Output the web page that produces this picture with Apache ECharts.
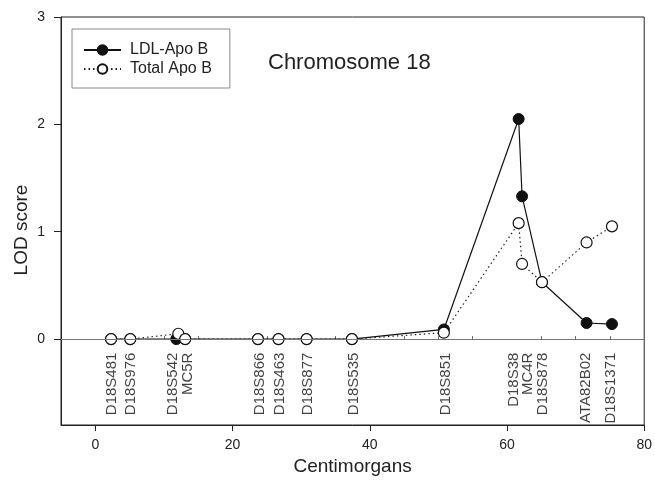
<!DOCTYPE html>
<html>
<head>
<meta charset="utf-8">
<script src="https://cdn.jsdelivr.net/npm/echarts@6/dist/echarts.min.js"></script>
<style>html,body{margin:0;padding:0;background:#fff;}#c{width:655px;height:483px;}</style>
</head>
<body>
<div id="c"></div>
<script>
// Marker labels and the cM position of each label column
var markerNames = ['D18S481','D18S976','D18S542','MC5R','D18S866','D18S463','D18S877','D18S535','D18S851','D18S38','MC4R','D18S878','ATA82B02','D18S1371'];
var markerLabelCM = [2.5, 5.3, 11.4, 13.6, 24.0, 26.9, 31.0, 37.8, 51.1, 61.1, 63.1, 65.3, 71.6, 75.2];

// LDL-Apo B (filled circles)
var ldlX = [2.3, 5.1, 11.8, 13.1, 23.7, 26.7, 30.8, 37.4, 50.8, 61.7, 62.2, 65.1, 71.6, 75.3];
var ldlY = [0, 0, 0, 0, 0, 0, 0, 0, 0.09, 2.05, 1.33, 0.53, 0.15, 0.14];

// Total Apo B (open circles)
var totX = [2.3, 5.1, 12.1, 13.1, 23.7, 26.7, 30.8, 37.4, 50.8, 61.7, 62.2, 65.1, 71.6, 75.3];
var totY = [0, 0, 0.05, 0, 0, 0, 0, 0, 0.06, 1.08, 0.70, 0.53, 0.90, 1.05];

var xTicks = [0, 20, 40, 60, 80];
var xMinorTicks = [5, 10, 15, 25, 30, 35, 45, 50, 55, 65, 70, 75];
var yTicks = [0, 1, 2, 3];

var FONT = 'Liberation Sans, Arial, sans-serif';
var chart = echarts.init(document.getElementById('c'), null, {renderer: 'canvas'});

function zip(a, b) { return a.map(function (v, i) { return [v, b[i]]; }); }

var option = {
  backgroundColor: '#fff',
  animation: false,
  textStyle: {fontFamily: FONT, color: '#222'},
  title: {
    text: 'Chromosome 18',
    left: 263, top: 47,
    textStyle: {fontFamily: FONT, fontSize: 22, fontWeight: 'normal', color: '#222'}
  },
  legend: {
    orient: 'vertical',
    left: 72, top: 29,
    padding: [13, 18, 11, 11],
    itemGap: 3,
    itemWidth: 37, itemHeight: 12,
    borderColor: '#888', borderWidth: 1,
    textStyle: {fontFamily: FONT, fontSize: 16, color: '#222', padding: [0, 0, 0, 4]},
    data: ['LDL-Apo B', 'Total Apo B']
  },
  grid: {left: 61, right: 7, top: 17, bottom: 58, show: true, borderColor: '#222', borderWidth: 1, backgroundColor: 'transparent'},
  xAxis: [{
    type: 'value', min: -5, max: 80,
    name: 'Centimorgans', nameLocation: 'middle', nameGap: 32, nameMoveOverlap: false,
    nameTextStyle: {fontFamily: FONT, fontSize: 19, color: '#222'},
    axisLine: {show: true, onZero: false, lineStyle: {color: '#222', width: 1}},
    axisTick: {show: true, customValues: xTicks, length: 6, lineStyle: {color: '#222'}},
    axisLabel: {customValues: xTicks, margin: 13, fontSize: 14, fontFamily: FONT, color: '#222'},
    splitLine: {show: false}
  }, {
    type: 'value', min: -5, max: 80, position: 'bottom',
    axisLine: {show: false},
    axisTick: {show: true, inside: true, customValues: xMinorTicks, length: 3, lineStyle: {color: '#666'}},
    axisLabel: {show: false},
    splitLine: {show: false}
  }],
  yAxis: {
    type: 'value', min: -0.8, max: 3,
    name: 'LOD score', nameLocation: 'middle', nameGap: 30, nameMoveOverlap: false,
    nameTextStyle: {fontFamily: FONT, fontSize: 19, color: '#222', padding: [0, 0, 0, -18]},
    axisLine: {show: true, onZero: false, lineStyle: {color: '#222', width: 1}},
    axisTick: {show: true, customValues: yTicks, length: 7, lineStyle: {color: '#222'}},
    axisLabel: {customValues: yTicks, margin: 16, fontSize: 14, fontFamily: FONT, color: '#222'},
    splitLine: {show: false}
  },
  series: [
    {
      name: 'marker labels', type: 'scatter', silent: true, z: 1,
      symbolSize: 1, itemStyle: {color: 'transparent'},
      data: markerLabelCM.map(function (v, i) { return {value: [v, 0], name: markerNames[i]}; }),
      label: {
        show: true, position: [0, 14], rotate: 90,
        align: 'right', verticalAlign: 'middle',
        formatter: function (p) { return p.name; },
        fontFamily: FONT, fontSize: 15, color: '#111'
      }
    },
    {
      name: 'LDL-Apo B', type: 'line', z: 3,
      data: zip(ldlX, ldlY),
      symbol: 'circle', symbolSize: 11,
      lineStyle: {color: '#111', width: 1.2, type: 'solid'},
      itemStyle: {color: '#111', borderColor: '#111', borderWidth: 1},
      markLine: {
        silent: true, symbol: ['none', 'none'], label: {show: false},
        lineStyle: {color: '#777', width: 1, type: 'solid'},
        data: [{yAxis: 0}]
      }
    },
    {
      name: 'Total Apo B', type: 'line', z: 4,
      data: zip(totX, totY),
      symbol: 'circle', symbolSize: 11,
      lineStyle: {color: '#222', width: 1.2, type: [1.5, 3]},
      itemStyle: {color: '#fff', borderColor: '#111', borderWidth: 1.2}
    }
  ]
};
chart.setOption(option);
</script>
</body>
</html>
